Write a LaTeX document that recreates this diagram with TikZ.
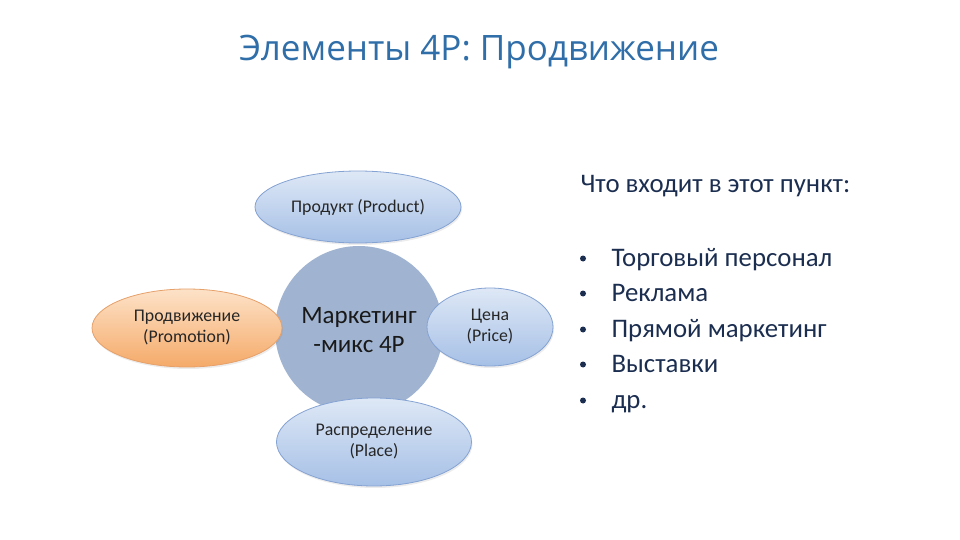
\documentclass[tikz,border=0pt]{standalone}
\usepackage{fontspec}
\setmainfont{Carlito}
\newfontfamily\titlefont{Open Sans}
\usetikzlibrary{shapes.geometric,shadows}

\definecolor{titleblue}{RGB}{47,110,168}
\definecolor{listnavy}{RGB}{28,46,80}
\definecolor{hubfill}{RGB}{160,180,209}
\definecolor{petaltop}{RGB}{222,232,246}
\definecolor{petalbot}{RGB}{166,192,230}
\definecolor{petaledge}{RGB}{132,162,210}
\definecolor{promotop}{RGB}{253,226,200}
\definecolor{promobot}{RGB}{245,170,105}
\definecolor{promoedge}{RGB}{230,160,105}

\tikzset{
    petal/.style={ellipse, draw=petaledge, line width=0.8pt, top color=petaltop, bottom color=petalbot,
        inner sep=0pt, align=center, text=black!85, font=\fontsize{17.8}{21}\selectfont,
        drop shadow={opacity=0.15, shadow xshift=1pt, shadow yshift=-2pt}},
    promo/.style={petal, draw=promoedge, top color=promotop, bottom color=promobot},
    item/.style={anchor=base west, text=listnavy, font=\fontsize{26.8}{32}\selectfont}
}

\begin{document}
\begin{tikzpicture}[x=1pt, y=-1pt]
    \useasboundingbox (0, 0) rectangle (960, 540);
    \node[text=titleblue, font=\titlefont\fontsize{35}{42}\selectfont] (title) at (479, 52) {Элементы 4P: Продвижение};

    % the 4P wheel
    \node[circle, fill=hubfill, minimum size=168pt, inner sep=0pt, align=center,
        font=\fontsize{25}{29}\selectfont, text=black!90] (hub) at (359, 330) {Маркетинг\\-микс 4P};
    \node[petal, minimum width=206pt, minimum height=72pt] (product) at (358, 207) {Продукт (Product)};
    \node[promo, minimum width=190pt, minimum height=78pt] (promotion) at (187, 328) {Продвижение\\(Promotion)};
    \node[petal, minimum width=126pt, minimum height=78pt] (price) at (490, 327) {Цена\\(Price)};
    \node[petal, minimum width=195pt, minimum height=88pt] (place) at (374, 442) {Распределение\\(Place)};

    % list on the right
    \node[item] (head) at (577, 193) {Что входит в этот пункт:};
    \node[item] (i1) at (608, 266) {Торговый персонал};
    \node[item] (i2) at (608, 301) {Реклама};
    \node[item] (i3) at (608, 337) {Прямой маркетинг};
    \node[item] (i4) at (608, 372) {Выставки};
    \node[item] (i5) at (608, 408) {др.};
    \foreach \n in {1,...,5}
        \fill[listnavy] ([xshift=-25pt, yshift=7.5pt]i\n.base west) circle (3pt);
\end{tikzpicture}
\end{document}
